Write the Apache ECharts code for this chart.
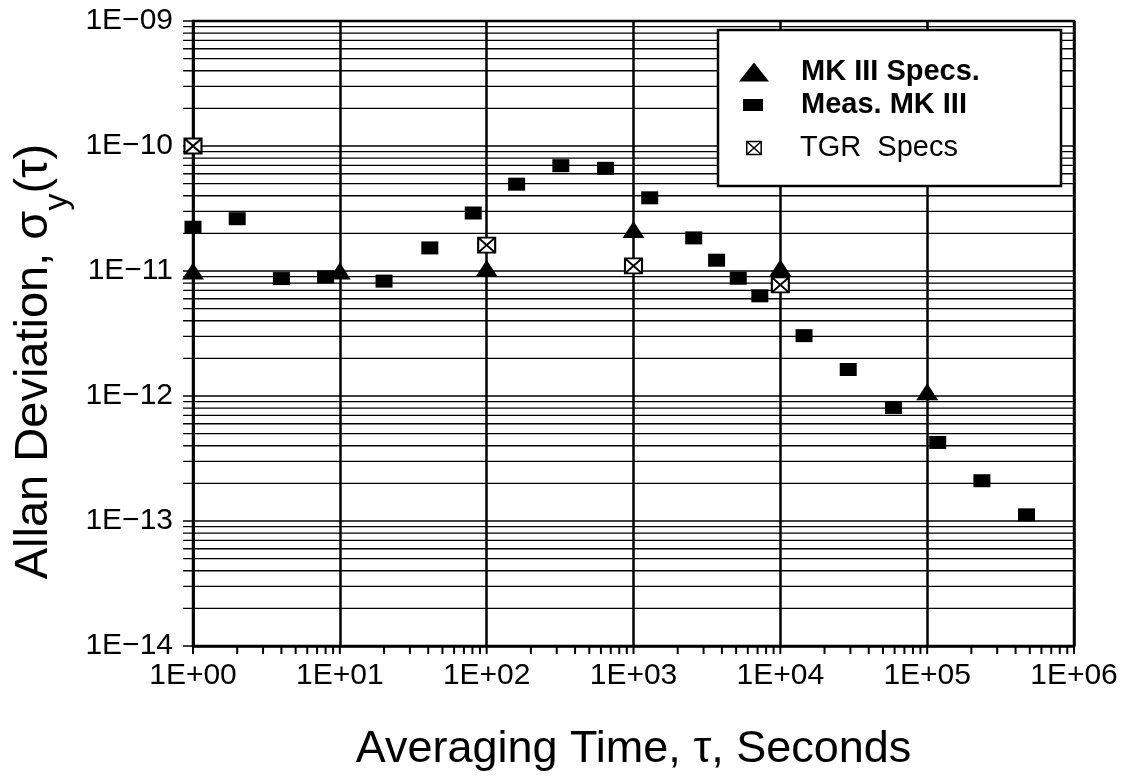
<!DOCTYPE html>
<html>
<head>
<meta charset="utf-8">
<script src="https://cdn.jsdelivr.net/npm/echarts@6/dist/echarts.min.js"></script>
<style>html,body{margin:0;padding:0;background:#fff}#c{width:1125px;height:777px}</style>
</head>
<body>
<div id="c"></div>
<script>
// ---- data ----
const tauMk3Spec = [1, 10, 100, 1000, 10000, 100000];
const sigMk3Spec = [1.0e-11, 1.0e-11, 1.05e-11, 2.15e-11, 1.06e-11, 1.08e-12];

const tauMeas = [1, 2, 4, 8, 20, 41, 81, 160, 320, 645, 1290, 2570, 3680, 5170, 7250, 14500, 29000, 59000, 118000, 236000, 475000];
const sigMeas = [2.24e-11, 2.62e-11, 8.7e-12, 8.96e-12, 8.3e-12, 1.53e-11, 2.91e-11, 4.95e-11, 6.96e-11, 6.63e-11, 3.85e-11, 1.84e-11, 1.22e-11, 8.75e-12, 6.33e-12, 3.04e-12, 1.63e-12, 8.1e-13, 4.25e-13, 2.1e-13, 1.12e-13];

const tauTgr = [1, 100, 1000, 10000];
const sigTgr = [1.0e-10, 1.61e-11, 1.1e-11, 7.74e-12];

const seriesNames = ['MK III Specs.', 'Meas. MK III', 'TGR  Specs'];
const xDecadeExps = [0, 1, 2, 3, 4, 5, 6];
const yDecadeExps = [-14, -13, -12, -11, -10, -9];

// ---- helpers ----
const FONT = "'Liberation Sans', Arial, Helvetica, sans-serif";
function pad2(n) { return (n < 10 ? '0' : '') + n; }
function logGrid(exps) {
  const out = [];
  for (let i = 0; i < exps.length; i++) {
    const base = Math.pow(10, exps[i]);
    if (i === exps.length - 1) { out.push(base); break; }
    for (let m = 1; m <= 9; m++) out.push(m * base);
  }
  return out;
}
const hLineVals = logGrid(yDecadeExps);
const xTickVals = logGrid(xDecadeExps);
const tgrPath = 'path://M0,0L10,0L10,9L0,9Z M0,0L10,9 M10,0L0,9';

const chart = echarts.init(document.getElementById('c'), null, {renderer: 'canvas'});
chart.setOption({
  animation: false,
  backgroundColor: '#fff',
  grid: {left: 193, right: 51, top: 21, bottom: 131, show: true, borderColor: '#000', borderWidth: 2.5, backgroundColor: 'transparent'},
  xAxis: {
    type: 'log', logBase: 10, min: 1, max: 1e6, splitNumber: 6,
    axisLine: {show: true, lineStyle: {color: '#000', width: 2.5}},
    axisTick: {show: false},
    splitLine: {show: true, lineStyle: {color: '#000', width: 2.5}},
    minorTick: {show: false}, minorSplitLine: {show: false},
    axisLabel: {
      margin: 15, color: '#000', fontFamily: FONT, fontSize: 30,
      formatter: function (v) { const e = Math.round(Math.log10(v)); return '1E+' + pad2(e); }
    },
    name: 'Averaging Time, τ, Seconds', nameLocation: 'middle', nameGap: 81,
    nameTextStyle: {fontFamily: FONT, fontSize: 45, color: '#000'}
  },
  yAxis: {
    type: 'log', logBase: 10, min: 1e-14, max: 1e-9, splitNumber: 5,
    axisLine: {show: true, lineStyle: {color: '#000', width: 2.5}},
    axisTick: {show: false},
    splitLine: {show: false},
    axisLabel: {
      margin: 20, color: '#000', fontFamily: FONT, fontSize: 30,
      formatter: function (v) { const e = Math.round(Math.log10(v)); return '1E\u2212' + pad2(-e); }
    },
    name: '{n|Allan Deviation, σ}{s|y}{n|(τ)}', nameLocation: 'middle', nameRotate: 90, nameGap: 118,
    nameTextStyle: {
      color: '#000', padding: [0, 56, 0, 0],
      rich: {
        n: {fontFamily: FONT, fontSize: 47, lineHeight: 47, verticalAlign: 'top', color: '#000'},
        s: {fontFamily: FONT, fontSize: 34, lineHeight: 64, verticalAlign: 'top', padding: [30, 0, 0, 0], color: '#000'}
      }
    }
  },
  legend: [
    {data: [seriesNames[0]], left: 739, top: 57, padding: 0, selectedMode: false, icon: 'triangle', itemWidth: 30, itemHeight: 19, z: 20,
      itemStyle: {color: '#000', borderWidth: 0},
      textStyle: {fontFamily: FONT, fontSize: 29, fontWeight: 'bold', color: '#000', lineHeight: 30, padding: [0, 0, 0, 27]}},
    {data: [seriesNames[1]], left: 743, top: 90, padding: 0, selectedMode: false, icon: 'rect', itemWidth: 20, itemHeight: 12, z: 20,
      itemStyle: {color: '#000', borderWidth: 0},
      textStyle: {fontFamily: FONT, fontSize: 29, fontWeight: 'bold', color: '#000', lineHeight: 30, padding: [0, 0, 0, 33]}},
    {data: [seriesNames[2]], left: 746, top: 133, padding: 0, selectedMode: false, icon: tgrPath, itemWidth: 18, itemHeight: 13, z: 20,
      itemStyle: {color: '#fff', borderColor: '#000', borderWidth: 1.5},
      textStyle: {fontFamily: FONT, fontSize: 29, color: '#000', lineHeight: 30, padding: [0, 0, 0, 32]}}
  ],
  graphic: {elements: [{type: 'rect', z: 10, shape: {x: 718, y: 30, width: 343, height: 156}, style: {fill: '#fff', stroke: '#000', lineWidth: 2.5}}]},
  series: [
    {
      type: 'custom', name: 'hgrid', silent: true, z: 1, clip: false,
      data: hLineVals.map(v => [1, v]),
      renderItem: function (params, api) {
        const cs = params.coordSys;
        const p = api.coord([1, api.value(1)]);
        return {type: 'line', shape: {x1: cs.x - 10, y1: p[1], x2: cs.x + cs.width, y2: p[1]}, style: {stroke: '#000', lineWidth: 1.3}};
      }
    },
    {
      type: 'custom', name: 'xticks', silent: true, z: 1, clip: false,
      data: xTickVals.map(v => [v, 1e-14]),
      renderItem: function (params, api) {
        const cs = params.coordSys;
        const p = api.coord([api.value(0), 1e-14]);
        return {type: 'line', shape: {x1: p[0], y1: cs.y + cs.height, x2: p[0], y2: cs.y + cs.height + 8}, style: {stroke: '#000', lineWidth: 2}};
      }
    },
    {
      type: 'scatter', name: seriesNames[1], z: 3, clip: false,
      symbol: 'rect', symbolSize: [17, 13],
      itemStyle: {color: '#000', opacity: 1},
      data: tauMeas.map((t, i) => [t, sigMeas[i]])
    },
    {
      type: 'scatter', name: seriesNames[0], z: 4, clip: false,
      symbol: 'triangle', symbolSize: [22, 17],
      itemStyle: {color: '#000', opacity: 1},
      data: tauMk3Spec.map((t, i) => [t, sigMk3Spec[i]])
    },
    {
      type: 'scatter', name: seriesNames[2], z: 4, clip: false,
      symbol: tgrPath, symbolSize: [17, 15],
      itemStyle: {color: '#fff', borderColor: '#000', borderWidth: 2, opacity: 1},
      data: tauTgr.map((t, i) => [t, sigTgr[i]])
    }
  ]
});
</script>
</body>
</html>
